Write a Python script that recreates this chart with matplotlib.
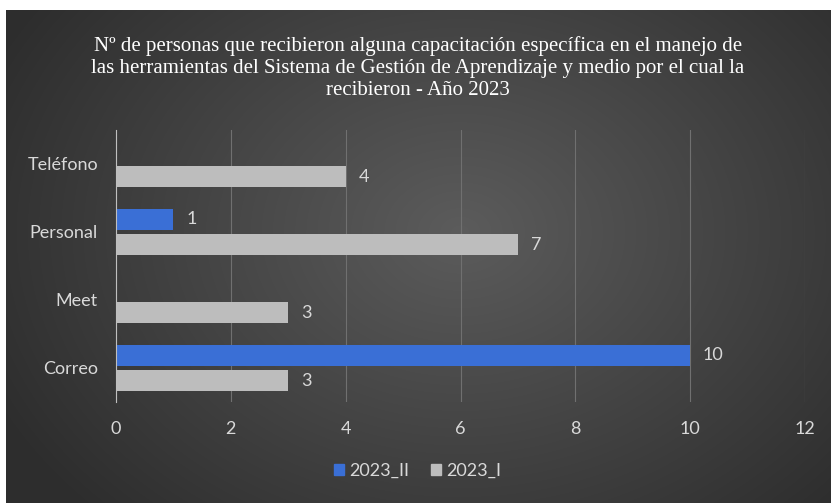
import numpy as np
import matplotlib
matplotlib.use("Agg")
import matplotlib.pyplot as plt
from matplotlib.patches import Patch

categories = ["Correo", "Meet", "Personal", "Teléfono"]
serie_2023_II = [10, 0, 1, 0]
serie_2023_I = [3, 3, 7, 4]
xticks = [0, 2, 4, 6, 8, 10, 12]

title = ("Nº de personas que recibieron alguna capacitación específica en el manejo de\n"
         "las herramientas del Sistema de Gestión de Aprendizaje y medio por el cual la\n"
         "recibieron - Año 2023")

blue = "#3a6fd6"
gray = "#bdbdbd"
text_col = "#d9d9d9"
fs = 13

fig = plt.figure(figsize=(8.31, 5.03), dpi=100, facecolor="white")

# radial gradient background (dark chart area with white margin top/left)
bg = fig.add_axes([6 / 831, 0, 1 - 6 / 831, 493 / 503], zorder=0)
h, w = 493, 825
yy, xx = np.mgrid[0:h, 0:w]
d = np.sqrt(((xx - w * 0.55) / (w * 0.62)) ** 2 + ((yy - h * 0.45) / (h * 0.8)) ** 2)
d = np.clip(d, 0, 1)
shade = 0.36 - 0.18 * d
bg.imshow(np.dstack([shade, shade, shade]), aspect="auto", interpolation="bilinear")
bg.axis("off")

ax = fig.add_axes([116 / 831, 101 / 503, 689 / 831, 272 / 503], zorder=1)
ax.patch.set_alpha(0)

y = np.arange(len(categories))
off, bh = 0.185, 0.3
for i, v in enumerate(serie_2023_II):
    if v > 0:
        ax.barh(y[i] + off, v, height=bh, color=blue, zorder=3)
        ax.text(v + 0.22, y[i] + off, str(v), va="center", ha="left",
                color=text_col, fontsize=fs, family="Lato")
for i, v in enumerate(serie_2023_I):
    if v > 0:
        ax.barh(y[i] - off, v, height=bh, color=gray, zorder=3)
        ax.text(v + 0.22, y[i] - off, str(v), va="center", ha="left",
                color=text_col, fontsize=fs, family="Lato")

ax.set_xlim(0, 12)
ax.set_ylim(-0.5, 3.5)
ax.set_xticks(xticks)
ax.set_yticks(y)
ax.set_yticklabels(categories)
ax.grid(axis="x", color="#707070", linewidth=0.8, zorder=0)
for s in ["top", "right", "bottom"]:
    ax.spines[s].set_visible(False)
ax.spines["left"].set_color("#bfbfbf")
ax.spines["left"].set_zorder(4)
ax.tick_params(axis="both", length=0, colors=text_col, labelsize=fs)
ax.tick_params(axis="x", pad=14)
ax.tick_params(axis="y", pad=13)
for lbl in ax.get_xticklabels() + ax.get_yticklabels():
    lbl.set_family("Lato")

fig.text(0.503, 0.928, title, ha="center", va="top", color="white",
         fontsize=15, family="Liberation Serif", linespacing=1.2)

handles = [Patch(color=blue, label="2023_II"), Patch(color=gray, label="2023_I")]
leg = fig.legend(handles=handles, loc="center", bbox_to_anchor=(0.503, 0.064),
                 ncol=2, frameon=False, handlelength=0.55, handleheight=0.55,
                 handletextpad=0.3, columnspacing=1.2,
                 prop={"family": "Lato", "size": fs})
for t in leg.get_texts():
    t.set_color(text_col)

fig.savefig("out.png", dpi=100, facecolor="white")
